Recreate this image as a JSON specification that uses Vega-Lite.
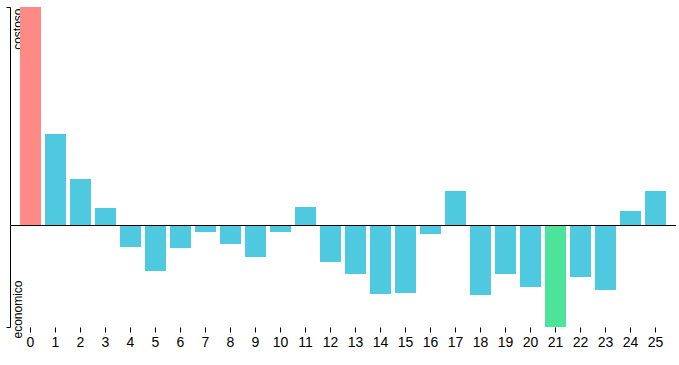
{
  "$schema": "https://vega.github.io/schema/vega-lite/v6.json",
  "width": 666,
  "height": 320,
  "padding": {"left": 10, "top": 7, "right": 3, "bottom": 38},
  "autosize": {"type": "none"},
  "background": "white",
  "config": {
    "view": {"stroke": null},
    "font": "Liberation Sans"
  },
  "data": {
    "values": [
      {"n": "0", "v": 218, "g": "costoso"},
      {"n": "1", "v": 91, "g": "normale"},
      {"n": "2", "v": 46, "g": "normale"},
      {"n": "3", "v": 17, "g": "normale"},
      {"n": "4", "v": -22, "g": "normale"},
      {"n": "5", "v": -46, "g": "normale"},
      {"n": "6", "v": -23, "g": "normale"},
      {"n": "7", "v": -7, "g": "normale"},
      {"n": "8", "v": -19, "g": "normale"},
      {"n": "9", "v": -32, "g": "normale"},
      {"n": "10", "v": -7, "g": "normale"},
      {"n": "11", "v": 18, "g": "normale"},
      {"n": "12", "v": -37, "g": "normale"},
      {"n": "13", "v": -49, "g": "normale"},
      {"n": "14", "v": -69, "g": "normale"},
      {"n": "15", "v": -68, "g": "normale"},
      {"n": "16", "v": -9, "g": "normale"},
      {"n": "17", "v": 34, "g": "normale"},
      {"n": "18", "v": -70, "g": "normale"},
      {"n": "19", "v": -49, "g": "normale"},
      {"n": "20", "v": -62, "g": "normale"},
      {"n": "21", "v": -102, "g": "economico"},
      {"n": "22", "v": -52, "g": "normale"},
      {"n": "23", "v": -65, "g": "normale"},
      {"n": "24", "v": 14, "g": "normale"},
      {"n": "25", "v": 34, "g": "normale"}
    ]
  },
  "layer": [
    {
      "mark": {"type": "bar"},
      "encoding": {
        "x": {
          "field": "n",
          "type": "ordinal",
          "sort": null,
          "scale": {"paddingInner": 0.16, "paddingOuter": 0.4},
          "axis": {
            "title": null,
            "domain": false,
            "tickSize": 5,
            "tickColor": "black",
            "labelAngle": 0,
            "labelPadding": 3,
            "labelFontSize": 14,
            "labelColor": "black",
            "labelFont": "Liberation Sans"
          }
        },
        "y": {
          "field": "v",
          "type": "quantitative",
          "scale": {"domain": [-102, 218], "nice": false},
          "axis": {
            "title": null,
            "grid": false,
            "values": [218, -102],
            "labelExpr": "datum.value > 0 ? 'costoso' : 'economico'",
            "domainColor": "black",
            "tickColor": "black",
            "tickSize": 4,
            "labelAngle": -90,
            "labelPadding": -15,
            "labelBaseline": "alphabetic",
            "labelAlign": {"condition": {"test": "datum.value > 0", "value": "right"}, "value": "left"},
            "labelOffset": {"condition": {"test": "datum.value > 0", "value": 1}, "value": 11},
            "labelFontSize": 12,
            "labelColor": "black",
            "labelFont": "Liberation Sans",
            "labelOverlap": false
          }
        },
        "color": {
          "field": "g",
          "type": "nominal",
          "scale": {"domain": ["costoso", "normale", "economico"], "range": ["#ff8a85", "#4ec9e0", "#4de39a"]},
          "legend": null
        }
      }
    },
    {
      "mark": {"type": "rule", "color": "black", "strokeWidth": 1, "yOffset": 0.5},
      "encoding": {"y": {"datum": 0}}
    }
  ]
}
